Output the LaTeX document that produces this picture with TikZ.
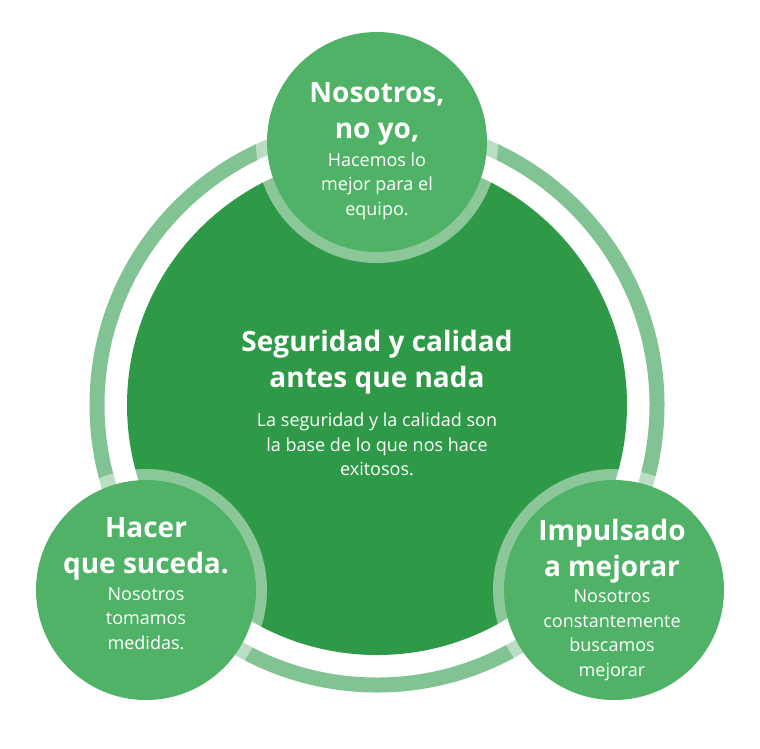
\documentclass[tikz,border=0pt]{standalone}
\usepackage{fontspec}
\setmainfont{Open Sans}
\usepackage{tikz}
\definecolor{coreGreen}{HTML}{2E9946}
\definecolor{valueGreen}{HTML}{4FB266}
\definecolor{ringGreen}{HTML}{82C393}
\tikzset{
core/.style={fill=coreGreen},
ring/.style={draw=ringGreen, line width=15pt},
halo/.style={fill=white, fill opacity=0.45},
value/.style={fill=valueGreen},
headline/.style={text=white, align=center, font=\fontsize{28}{36}\selectfont\bfseries},
subline/.style={text=white, align=center, font=\fontsize{18}{24.5}\selectfont},
}
\usetikzlibrary{positioning}

\begin{document}
\begin{tikzpicture}[x=1pt, y=-1pt]
	\useasboundingbox (0,0) rectangle (760,748);
	% ---- centre and ring
	\coordinate (C) at (377,405);
	\draw[ring] (C) circle (280);
	\fill[core] (C) circle (250);
	% ---- the three values
	\coordinate (top) at (377,142);
	\coordinate (left) at (146,590);
	\coordinate (right) at (614,590);
	\foreach \p in {top, left, right} {
		\fill[halo] (\p) circle (121);
		\fill[value] (\p) circle (110);
	}
	% ---- texts
	\node[headline] (coreT) at (377,362) {Seguridad y calidad\\antes que nada};
	\node[subline, below = 12pt of coreT] (coreS) {La seguridad y la calidad son\\la base de lo que nos hace\\exitosos.};

	\node[headline] (topT) at (377,114) {Nosotros,\\no yo,};
	\node[subline, below = 0pt of topT] (topS) {Hacemos lo\\mejor para el\\equipo.};

	\node[headline] (leftT) at (146,549) {Hacer\\que suceda.};
	\node[subline, below = 0pt of leftT] (leftS) {Nosotros\\tomamos\\medidas.};

	\node[headline] (rightT) at (612,551) {Impulsado\\a mejorar};
	\node[subline, below = 0pt of rightT] (rightS) {Nosotros\\constantemente\\buscamos\\mejorar};
\end{tikzpicture}
\end{document}
